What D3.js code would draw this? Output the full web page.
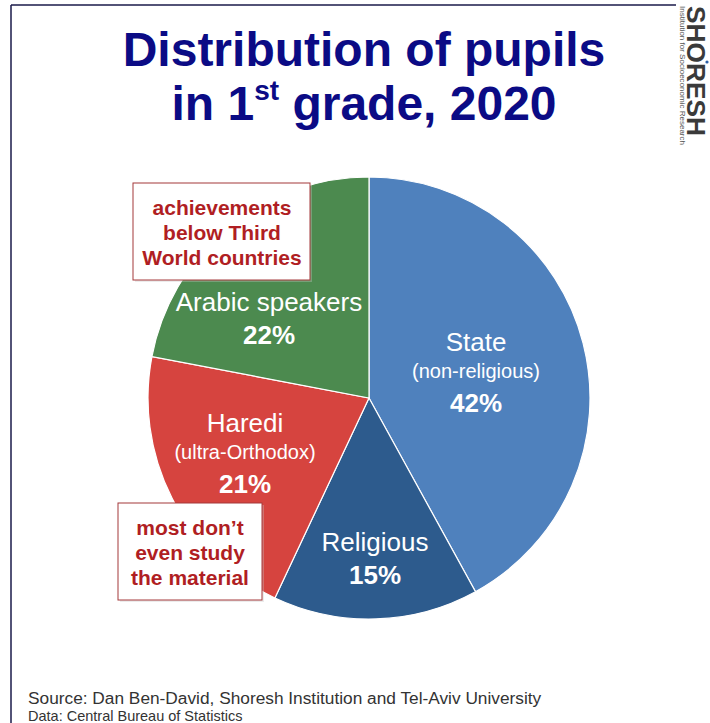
<!DOCTYPE html>
<html>
<head>
<meta charset="utf-8">
<script src="https://cdn.jsdelivr.net/npm/d3@7"></script>
<style>
  html, body { margin: 0; padding: 0; background: #fff; }
  svg { display: block; font-family: "Liberation Sans", Arial, sans-serif; }
</style>
</head>
<body>
<svg id="chart" width="710" height="723"></svg>
<script>
// Pupils in 1st grade, 2020, share by school stream (clockwise from top)
const categories = ["State", "Religious", "Haredi", "Arabic speakers"];
const subLabels  = ["(non-religious)", null, "(ultra-Orthodox)", null];
const shares     = [42, 15, 21, 22];
const colors     = ["#4F81BD", "#2D5B8D", "#D6443F", "#4C8A4F"];

const svg = d3.select("#chart");

// frame lines along top and left
svg.append("line").attr("x1", 11).attr("y1", 5).attr("x2", 676).attr("y2", 5)
  .attr("stroke", "#1a1a4a").attr("stroke-width", 1.5);
svg.append("line").attr("x1", 11).attr("y1", 5).attr("x2", 11).attr("y2", 723)
  .attr("stroke", "#1a1a4a").attr("stroke-width", 1.5);

// title
const title = svg.append("text").attr("text-anchor", "middle")
  .attr("fill", "#0B0B85").attr("font-weight", "bold").attr("font-size", 48);
title.append("tspan").attr("x", 364).attr("y", 66).text("Distribution of pupils");
const t2 = svg.append("text").attr("text-anchor", "middle").attr("x", 364).attr("y", 120)
  .attr("fill", "#0B0B85").attr("font-weight", "bold").attr("font-size", 48);
t2.append("tspan").text("in 1");
t2.append("tspan").attr("font-size", 28).attr("dy", -20).text("st");
t2.append("tspan").attr("dy", 20).text(" grade, 2020");

// logo, vertical
svg.append("text").attr("transform", "translate(687,6) rotate(90)")
  .attr("font-size", 26).attr("font-weight", "bold").attr("fill", "#3a3a3a")
  .attr("textLength", 130).attr("lengthAdjust", "spacingAndGlyphs").text("SHORESH");
svg.append("text").attr("transform", "translate(680,6) rotate(90)")
  .attr("font-size", 8).attr("fill", "#555")
  .attr("textLength", 139).attr("lengthAdjust", "spacingAndGlyphs")
  .text("Institution for Socioeconomic Research");
svg.append("circle").attr("cx", 707).attr("cy", 62).attr("r", 1.6).attr("fill", "#2a5fa8");

// pie
const cx = 369, cy = 398, R = 221;
const pie = d3.pie().sort(null).value(d => d)(shares);
const arc = d3.arc().innerRadius(0).outerRadius(R);
const g = svg.append("g").attr("transform", `translate(${cx},${cy})`);
g.selectAll("path").data(pie).join("path")
  .attr("d", arc)
  .attr("fill", (d, i) => colors[i])
  .attr("stroke", "#ffffff").attr("stroke-width", 1.2);

// slice labels (white)
const labelAt = [[476, 351], [375, 551], [245, 432], [269, 311]];
pie.forEach((d, i) => {
  const [x, y] = labelAt[i];
  const lg = svg.append("g").attr("fill", "#fff").attr("text-anchor", "middle");
  lg.append("text").attr("x", x).attr("y", y).attr("font-size", 26).text(categories[i]);
  let yy = y;
  if (subLabels[i]) {
    yy += 27;
    lg.append("text").attr("x", x).attr("y", yy).attr("font-size", 20).text(subLabels[i]);
    yy += 34;
  } else {
    yy += 33;
  }
  lg.append("text").attr("x", x).attr("y", yy).attr("font-size", 26).attr("font-weight", "bold")
    .text(shares[i] + "%");
});

// annotation boxes
function note(x, y, w, h, lines, cxText) {
  svg.append("rect").attr("x", x + 2).attr("y", y + 2).attr("width", w).attr("height", h)
    .attr("fill", "#c8c8c8").attr("opacity", 0.35);
  svg.append("rect").attr("x", x).attr("y", y).attr("width", w).attr("height", h)
    .attr("fill", "#fff").attr("stroke", "#A4383A").attr("stroke-width", 1);
  const t = svg.append("text").attr("text-anchor", "middle").attr("fill", "#B01E23")
    .attr("font-weight", "bold").attr("font-size", 21);
  lines.forEach((s, k) => t.append("tspan").attr("x", cxText).attr("y", y + 32 + k * 25).text(s));
}
note(133, 183, 177, 97, ["achievements", "below Third", "World countries"], 222);
note(118, 503, 144, 97, ["most don\u2019t", "even study", "the material"], 190);

// source
svg.append("text").attr("x", 28).attr("y", 704).attr("font-size", 17.3).attr("fill", "#333")
  .text("Source: Dan Ben-David, Shoresh Institution and Tel-Aviv University");
svg.append("text").attr("x", 28).attr("y", 721).attr("font-size", 14.5).attr("fill", "#333")
  .text("Data: Central Bureau of Statistics");
</script>
</body>
</html>
